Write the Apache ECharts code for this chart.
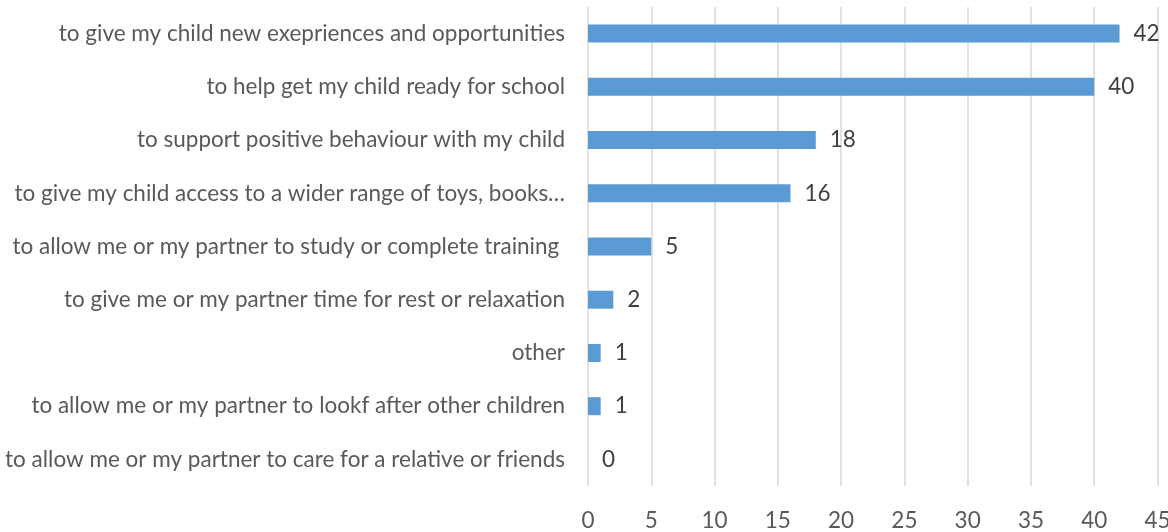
<!DOCTYPE html>
<html><head><meta charset="utf-8">
<script src="https://cdn.jsdelivr.net/npm/echarts@6/dist/echarts.min.js"></script>
<style>html,body{margin:0;padding:0;background:#fff}#c{width:1168px;height:532px}</style>
</head><body><div id="c"></div>
<script>
const categories = [
  "to give my child new exepriences and opportunities",
  "to help get my child ready for school",
  "to support positive behaviour with my child",
  "to give my child access to a wider range of toys, books…",
  "to allow me or my partner to study or complete training ",
  "to give me or my partner time for rest or relaxation",
  "other",
  "to allow me or my partner to lookf after other children",
  "to allow me or my partner to care for a relative or friends"
];
const values = [42, 40, 18, 16, 5, 2, 1, 1, 0];
const xTicks = [0, 5, 10, 15, 20, 25, 30, 35, 40, 45];

const font = "Lato, 'Open Sans', sans-serif";
const chart = echarts.init(document.getElementById('c'), null, {renderer: 'canvas'});
chart.setOption({
  animation: false,
  backgroundColor: '#fff',
  grid: {left: 588, right: 10.5, top: 7, bottom: 46, containLabel: false, outerBoundsMode: 'none'},
  xAxis: {
    type: 'value', min: xTicks[0], max: xTicks[xTicks.length - 1], interval: 5,
    axisLine: {show: false}, axisTick: {show: false},
    splitLine: {show: true, lineStyle: {color: '#d9d9d9', width: 1.5}},
    axisLabel: {color: '#595959', fontSize: 22.5, fontFamily: font, margin: 23}
  },
  yAxis: {
    type: 'category', data: categories.slice().reverse(), inverse: false,
    axisLine: {show: false}, axisTick: {show: false},
    axisLabel: {color: '#595959', fontSize: 22.5, fontFamily: font, margin: 23}
  },
  series: [{
    type: 'bar', data: values.slice().reverse(), barWidth: 18,
    itemStyle: {color: '#5b9bd5'},
    label: {show: true, position: 'right', distance: 14, color: '#404040', fontSize: 22.5, fontFamily: font}
  }]
});
</script></body></html>
